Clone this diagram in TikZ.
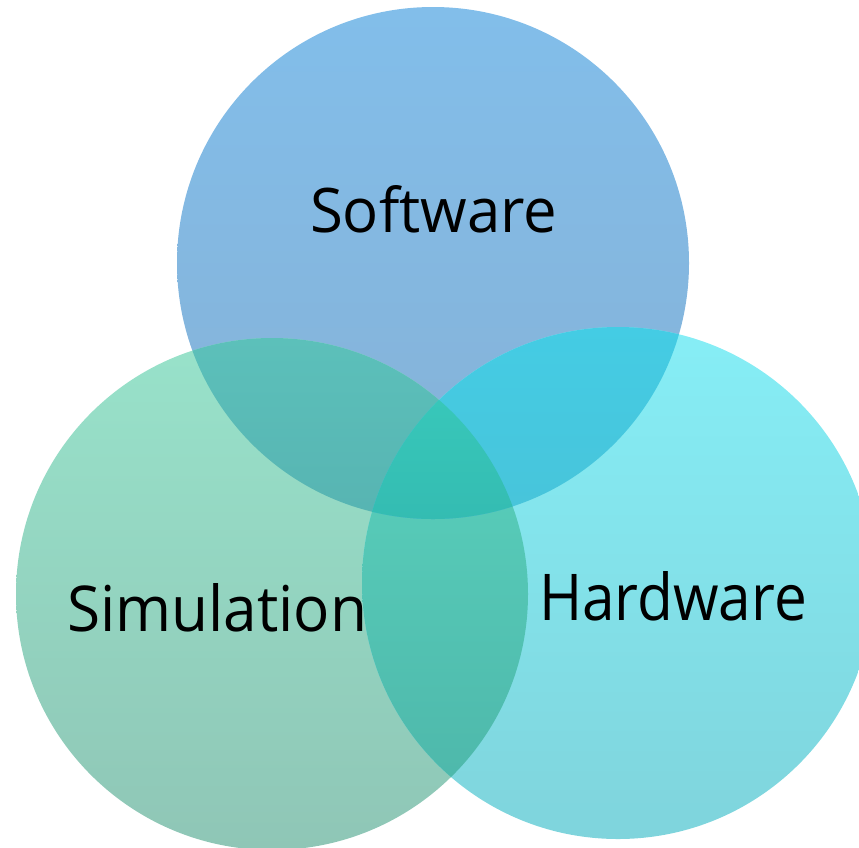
\documentclass[tikz,border=0pt]{standalone}
\usepackage{fontspec}
\usepackage{graphicx}
\setmainfont{Open Sans}
\definecolor{sTop}{HTML}{82BEEA}
\definecolor{sBot}{HTML}{86B1D6}
\definecolor{mTop}{HTML}{98E2CA}
\definecolor{mBot}{HTML}{8FC6B6}
\definecolor{hTop}{HTML}{86EEF6}
\definecolor{hBot}{HTML}{7FD4DC}
\definecolor{mhTop}{HTML}{5CD6C0}
\definecolor{mhBot}{HTML}{4CB4A8}
\definecolor{smTop}{HTML}{5CC0BA}
\definecolor{smBot}{HTML}{57B4B2}
\definecolor{shTop}{HTML}{44CCE4}
\definecolor{shBot}{HTML}{48C4DA}
\definecolor{allTop}{HTML}{38C8BA}
\definecolor{allBot}{HTML}{34BCB2}
\tikzset{lbl/.style={anchor=base west,inner sep=0pt,outer sep=0pt,text=black}}
\begin{document}
\begin{tikzpicture}[x=1pt,y=-1pt]
\useasboundingbox (0,0) rectangle (859,847);
\clip (0,0) rectangle (859,847);
\def\SW{(433,263) circle (256)}
\def\SM{(272,594) circle (256)}
\def\HW{(618,583) circle (256)}
% base circles
\shade[top color=sTop,bottom color=sBot] \SW;
\shade[top color=mTop,bottom color=mBot] \SM;
\shade[top color=hTop,bottom color=hBot] \HW;
% simulation & hardware
\begin{scope}
\clip \SM; \clip \HW;
\shade[top color=mhTop,bottom color=mhBot] (360,327) rectangle (530,847);
\end{scope}
% software & simulation
\begin{scope}
\clip \SW; \clip \SM;
\shade[top color=smTop,bottom color=smBot] (170,338) rectangle (530,520);
\end{scope}
% software & hardware
\begin{scope}
\clip \SW; \clip \HW;
\shade[top color=shTop,bottom color=shBot] (360,327) rectangle (692,520);
\end{scope}
% all three
\begin{scope}
\clip \SW; \clip \SM; \clip \HW;
\shade[top color=allTop,bottom color=allBot] (360,390) rectangle (530,520);
\end{scope}
\node[lbl] (software) at (310,232) {\resizebox{247pt}{47pt}{Software}};
\node[lbl] (simulation) at (67,631) {\resizebox{300pt}{48pt}{Simulation}};
\node[lbl] (hardware) at (539,620) {\resizebox{268pt}{49pt}{Hardware}};
\end{tikzpicture}
\end{document}
